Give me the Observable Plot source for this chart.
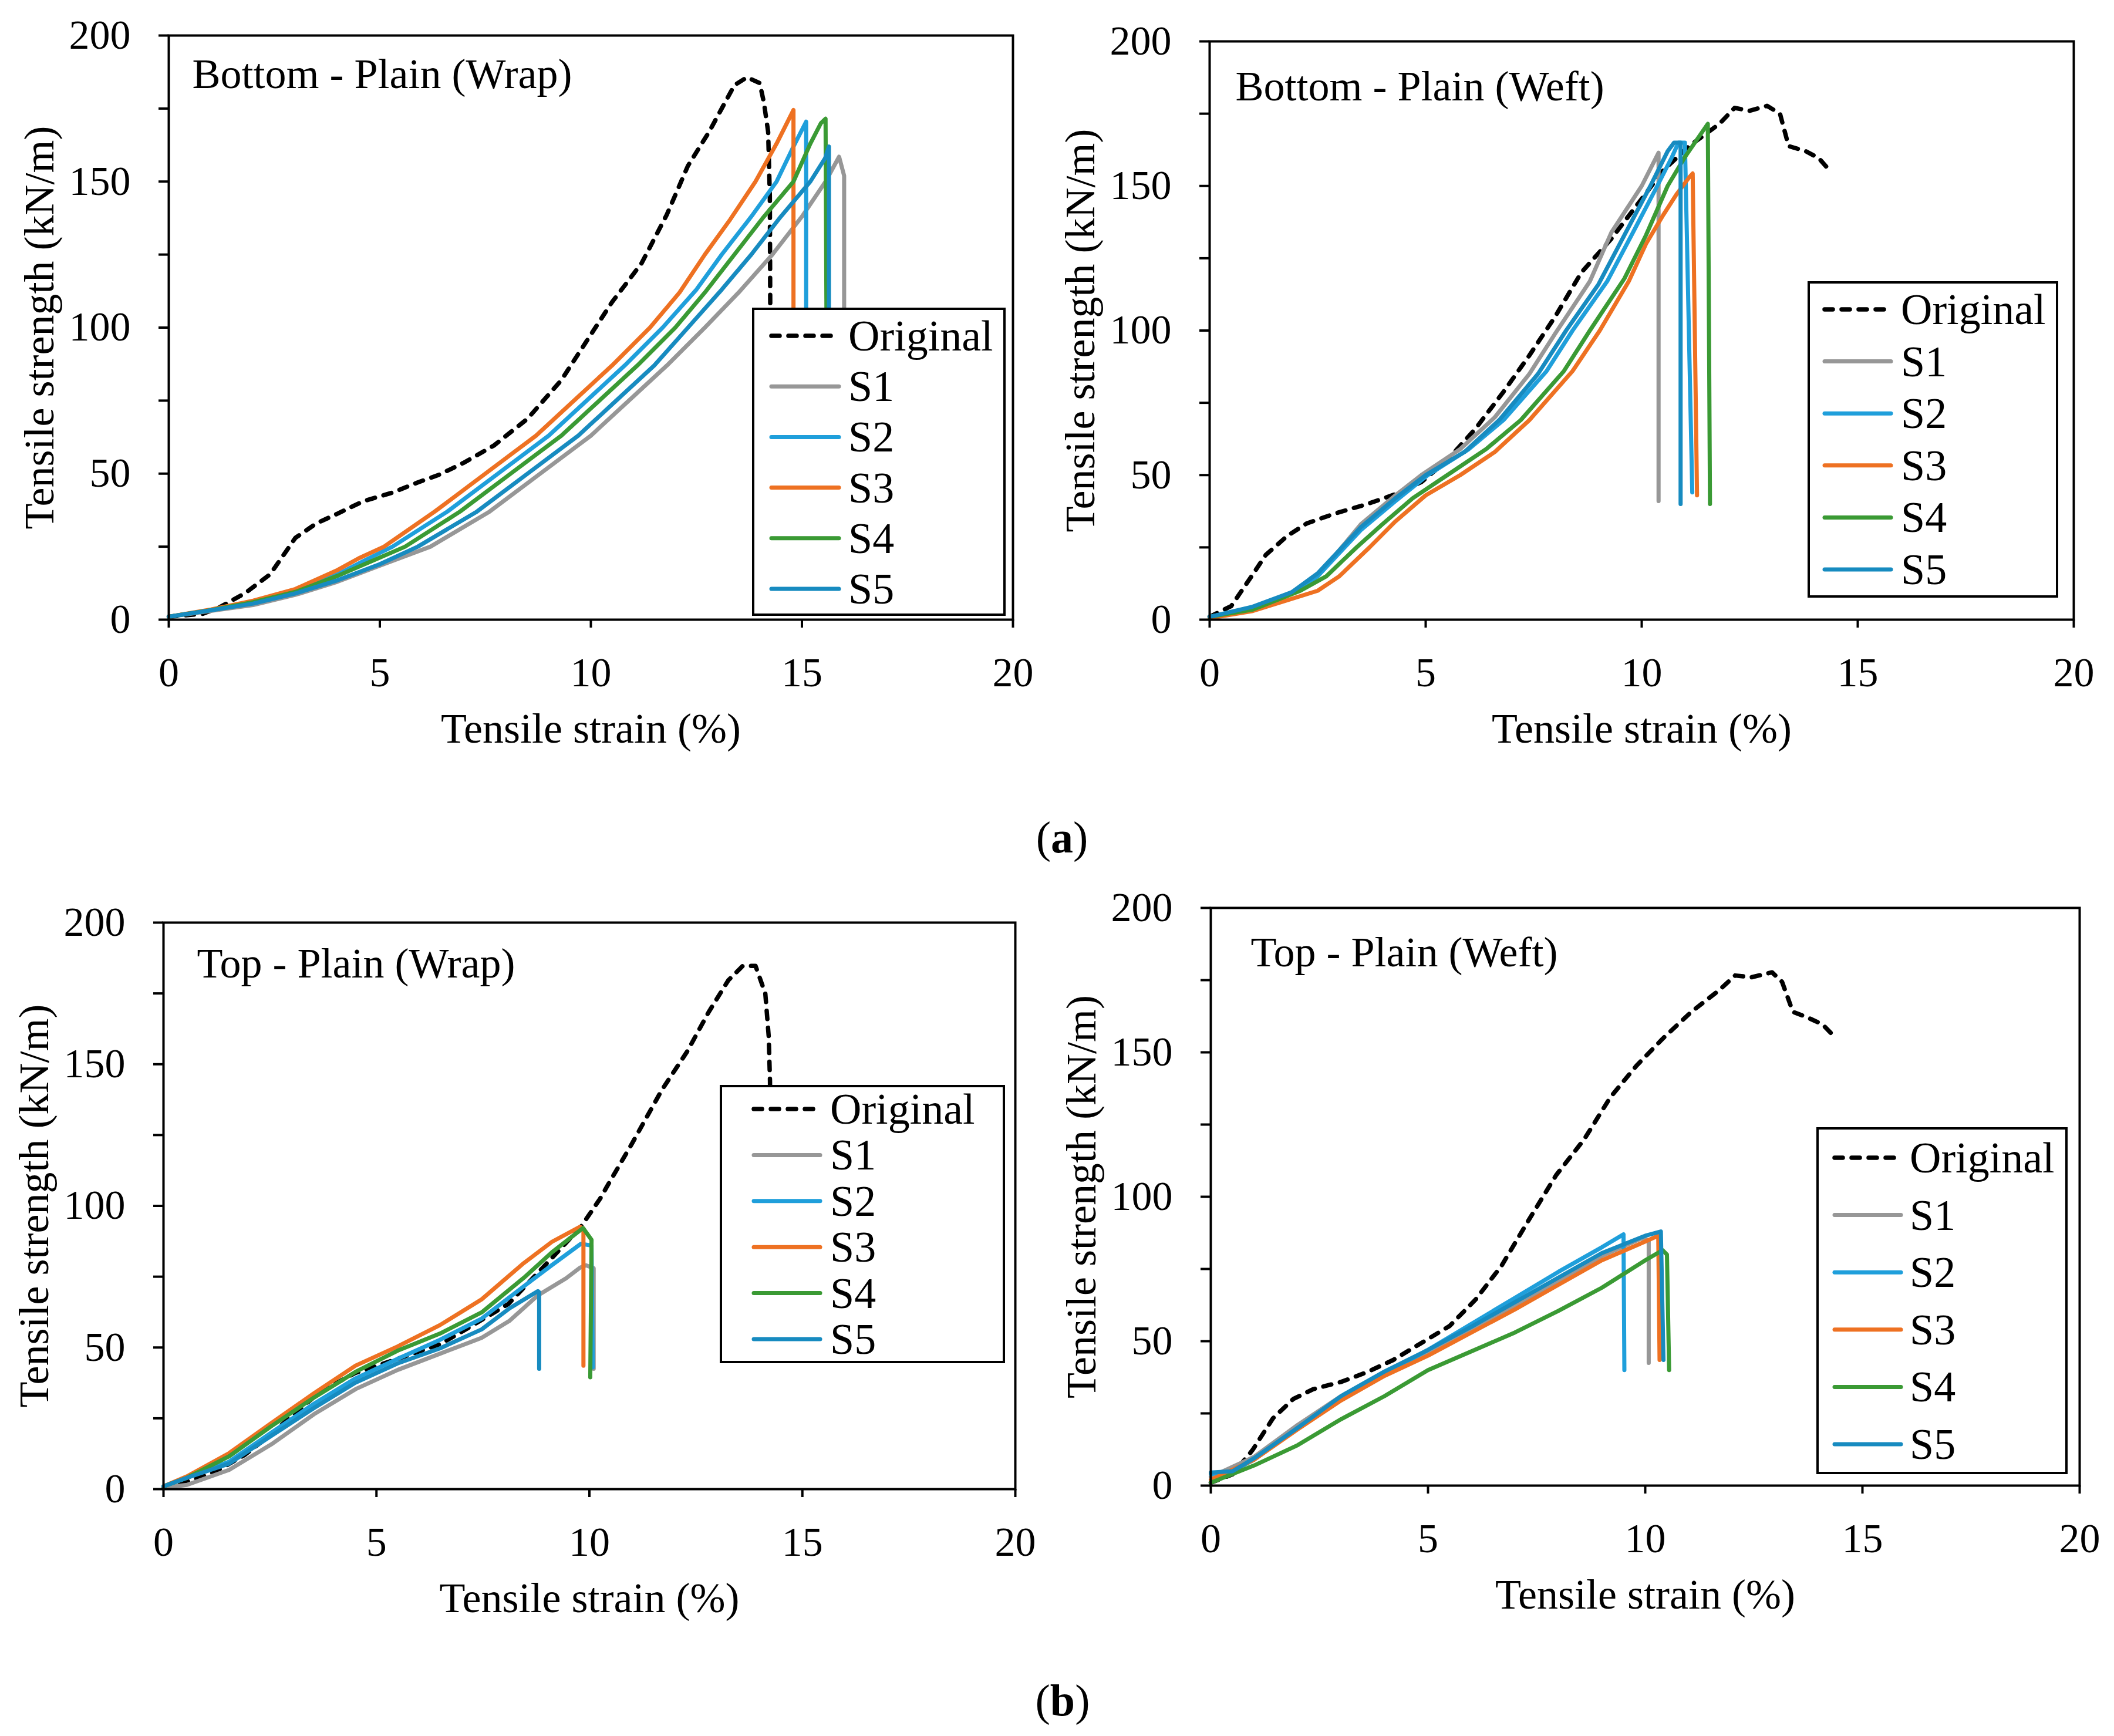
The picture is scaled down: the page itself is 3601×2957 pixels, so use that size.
<!DOCTYPE html>
<html>
<head>
<meta charset="utf-8">
<script src="https://cdn.jsdelivr.net/npm/d3@7"></script>
<script src="https://cdn.jsdelivr.net/npm/@observablehq/plot@0.6"></script>
<style>
  html, body { margin: 0; padding: 0; background: #fff; }
  #page { position: relative; width: 3601px; height: 2957px; background: #fff; overflow: hidden; }
  .panel { position: absolute; }
  #overlay { position: absolute; left: 0; top: 0; pointer-events: none; }
</style>
</head>
<body>
<div id="page"></div>
<script>
// ---------- DATA (strain %, tensile strength kN/m) ----------
const seriesNames = ["Original", "S1", "S2", "S3", "S4", "S5"];
const seriesColors = ["#000000", "#979797", "#1f9fdb", "#ee7122", "#3a9a34", "#178bc0"];
const xTicks = [0, 5, 10, 15, 20];
const yTicks = [0, 25, 50, 75, 100, 125, 150, 175, 200];
const panelTitles = ["Bottom - Plain (Wrap)", "Bottom - Plain (Weft)", "Top - Plain (Wrap)", "Top - Plain (Weft)"];
const xLabel = "Tensile strain (%)";
const yLabel = "Tensile strength (kN/m)";
const groupLabels = ["a", "b"];

// Panel (a) left: Bottom - Plain (Wrap)
const aOriginal = [[0,1],[0.8,2],[1.2,4.2],[1.8,9],[2.4,15.5],[3.0,28],[3.5,33],[4.0,36.3],[4.6,40.5],[5.3,43.5],[5.9,47],[6.4,49.6],[7.0,53.8],[7.7,59.6],[8.5,68.8],[9.3,82],[9.9,95.4],[10.5,108.7],[11.2,122],[11.8,138.7],[12.3,155.4],[12.8,167],[13.4,183],[13.7,185.7],[14.0,183.7],[14.1,177],[14.2,167],[14.24,145],[14.25,105]];
const aS1 = [[0,1],[1,3],[2,5],[3,8.5],[4,13],[5,18.5],[6.2,25],[7.6,37],[8.8,50],[10,63],[10.9,75],[11.8,87],[12.7,100],[13.5,112],[14.3,125],[15,138],[15.56,150],[15.88,158.5],[16.0,152],[16.0,45]];
const aS2 = [[0,1],[1,3.3],[2,6],[3,10],[4,15.5],[4.6,20],[5.3,25],[6.6,37],[7.8,50],[9,63],[9.9,75],[10.8,87],[11.7,100],[12.5,113],[13.1,125],[13.8,138],[14.4,150],[14.8,162],[15.1,170.5],[15.1,45]];
const aS3 = [[0,1],[1,3.5],[2,6.5],[3,10.5],[4,17],[4.5,21],[5.1,25],[6.3,37],[7.5,50],[8.7,63],[9.6,75],[10.5,87],[11.4,100],[12.1,112],[12.7,125],[13.3,137],[13.9,150],[14.4,163],[14.8,174.5],[14.8,45]];
const aS4 = [[0,1],[1,3.3],[2,6],[3,9.5],[4,15],[4.8,20],[5.6,25],[6.9,37],[8.1,50],[9.3,63],[10.2,75],[11.1,87],[12,100],[12.7,112],[13.4,125],[14.1,138],[14.8,150],[15.2,163],[15.45,170],[15.56,171.5],[15.6,45]];
const aS5 = [[0,1],[1,3.2],[2,5.5],[3,9],[4,13.5],[5,19],[5.9,25],[7.3,37],[8.5,50],[9.7,63],[10.6,75],[11.5,87],[12.3,100],[13.1,113],[13.8,125],[14.5,138],[15.2,150],[15.55,158],[15.64,162],[15.64,45]];

// Panel (a) right: Bottom - Plain (Weft)
const bOriginal = [[0,1],[0.5,4.7],[1.0,15.7],[1.3,22.4],[1.8,29],[2.25,33.3],[2.9,36.7],[3.65,40],[4.3,43.4],[4.9,47.6],[5.5,55.2],[6.15,66],[6.8,78.8],[7.4,91.4],[8.0,104.9],[8.6,120],[9.3,131.8],[9.9,143.6],[10.5,155.4],[11.1,163.8],[11.8,171.5],[12.15,177],[12.5,176],[12.9,177.7],[13.2,175],[13.4,163.8],[13.8,162],[14.1,159.6],[14.4,154.5]];
const bS1 = [[0,1],[1,4],[1.9,9.5],[2.5,15],[3,24],[3.5,33],[4.3,43],[4.9,50],[5.8,59],[6.6,70],[7.4,85],[8,99],[8.8,117],[9.3,134],[10,150],[10.39,161.5],[10.39,41]];
const bS2 = [[0,1],[1,4],[1.9,9],[2.5,15],[3,23],[3.5,31],[4.3,41],[5.05,50],[6,59],[6.8,69],[7.8,86],[8.4,100],[9.2,117],[9.8,134],[10.36,150],[10.7,160],[10.85,165],[11.0,165],[11.17,44]];
const bS3 = [[0,0.5],[1,3],[2.5,10],[3,15],[3.7,25],[4.3,34],[5,43],[5.8,50],[6.6,58],[7.4,69],[8.4,86],[9.03,100],[9.7,117],[10.1,130],[10.5,140],[10.8,147],[11.1,153],[11.18,154.3],[11.28,43]];
const bS4 = [[0,1],[1,3.5],[2.1,10],[2.7,15],[3.4,25],[4,33],[4.7,42],[5.5,50],[6.4,59],[7.2,69],[8.2,86],[8.8,100],[9.6,118],[10.1,133],[10.6,150],[11.0,160],[11.53,171.5],[11.58,40]];
const bS5 = [[0,1],[1,4.5],[1.9,9.5],[2.5,16],[3,24],[3.5,32],[4.3,42],[5,50],[5.9,58],[6.7,69],[7.6,85],[8.25,100],[9,116],[9.6,133],[10.2,150],[10.6,162],[10.75,165],[10.9,165],[10.9,40]];

// Panel (b) left: Top - Plain (Wrap)
const cOriginal = [[0,0.5],[0.55,2.6],[1.2,6],[1.9,12],[2.5,19],[3.1,27],[3.7,34.6],[4.5,41],[5.5,46],[6.5,51.2],[7.1,56.4],[8.1,65.4],[9.1,81.3],[9.8,92.6],[10.25,102.5],[10.4,106.5],[11.0,122],[11.7,140.9],[12.3,154.6],[12.8,168.4],[13.26,179.6],[13.6,184.7],[13.9,184.7],[14.13,175],[14.21,159.8],[14.24,144],[14.25,120]];
const cS1 = [[0,0.5],[0.55,1.5],[1.54,6.8],[2.53,15.8],[3.53,26.4],[4.51,35.3],[5.5,42.1],[6.49,47.8],[7.47,53.4],[8.13,59.5],[8.79,68.4],[9.45,74.4],[9.78,78.2],[9.92,79],[10.1,78],[10.1,42.5]];
const cS2 = [[0,1],[0.55,4],[1.54,9.7],[2.53,19.9],[3.53,30.1],[4.51,39.1],[5.5,46],[6.49,52.7],[7.47,60.2],[8.46,71.6],[9.12,79.1],[9.8,86.6],[10.05,86],[10.08,43]];
const cS3 = [[0,1],[0.55,4.5],[1.54,12.7],[2.53,23.3],[3.53,33.8],[4.51,43.6],[5.5,50.4],[6.49,57.9],[7.47,67],[8.46,79.8],[9.12,87.3],[9.78,92.6],[9.86,92],[9.86,43.6]];
const cS4 = [[0,1],[0.55,4],[1.54,11.6],[2.53,22.2],[3.53,32.3],[4.51,41.4],[5.5,48.9],[6.49,54.9],[7.47,62.4],[8.46,74.6],[9.12,83.6],[9.85,92.2],[10.05,88],[10.02,39.5]];
const cS5 = [[0,1],[0.55,4],[1.54,9],[2.53,18.8],[3.53,28.6],[4.51,37.6],[5.5,44.4],[6.49,49.7],[7.47,56.4],[8.13,63.9],[8.79,69.9],[8.82,69.5],[8.82,42.5]];

// Panel (b) right: Top - Plain (Weft)
const dOriginal = [[0,1],[0.5,3.9],[0.96,12.3],[1.43,23.3],[1.9,30],[2.36,33.4],[3.0,35.9],[3.6,39.3],[4.2,43.5],[4.85,49.4],[5.5,55.3],[6.1,64.5],[6.7,76.3],[7.3,91.5],[7.95,107.5],[8.6,120],[9.2,134.5],[9.8,145.4],[10.4,154.7],[11.06,164],[11.7,171.5],[12.07,176.6],[12.45,176],[12.92,177.7],[13.15,174.4],[13.4,164],[13.7,162.3],[14.08,159.7],[14.4,154.7]];
const dS1 = [[0,3],[1,10],[2,21],[3,31],[4,39],[5,46],[6,54],[7,62],[8,71],[9,79.5],[9.9,85.5],[10.08,85],[10.08,42.5]];
const dS2 = [[0,4],[0.5,5],[1,9],[2,20],[3,30],[4,38.5],[5,47],[6,56],[7,65],[8,74],[9,82.5],[9.5,87],[9.52,40]];
const dS3 = [[0,2],[1,9],[2,19.5],[3,29.5],[4,38],[5,45],[6,53],[7,61],[8,69.5],[9,78],[10,84.5],[10.3,86.5],[10.33,43.5]];
const dS4 = [[0,1],[0.5,4],[1,7],[2,14],[3,23],[4,31],[5,40],[6,46.5],[7,53],[8,60.5],[9,68.5],[10,78],[10.4,81.5],[10.5,80],[10.55,40]];
const dS5 = [[0,4.5],[0.5,5],[1,9.5],[2,20],[3,31],[4,39.5],[5,47],[6,55],[7,63.5],[8,72],[9,80.5],[10,86.5],[10.36,88],[10.42,43.5]];

// ---------- LAYOUT ----------
const FONT = "'Liberation Serif', 'Times New Roman', Times, serif";
const panels = [
  {title: panelTitles[0], series: [aOriginal, aS1, aS2, aS3, aS4, aS5], left: 0, top: 0, w: 1800, h: 1420,
   frame: {l: 287, r: 1725, t: 60, b: 1055}, tdx: 40, tdy: 89,
   legend: {x: 1283, y: 526, w: 428, h: 521, row0: 46, step: 86.2, lx0: 27, lx1: 150, tx: 162}},
  {title: panelTitles[1], series: [bOriginal, bS1, bS2, bS3, bS4, bS5], left: 1800, top: 0, w: 1801, h: 1420,
   frame: {l: 2060, r: 3532, t: 70, b: 1055}, tdx: 44, tdy: 100,
   legend: {x: 3081, y: 481, w: 423, h: 535, row0: 46, step: 88.6, lx0: 23, lx1: 144, tx: 157}},
  {title: panelTitles[2], series: [cOriginal, cS1, cS2, cS3, cS4, cS5], left: 0, top: 1440, w: 1800, h: 1400,
   frame: {l: 278, r: 1729, t: 1571, b: 2536}, tdx: 57, tdy: 93,
   legend: {x: 1228, y: 1850, w: 482, h: 470, row0: 39, step: 78.4, lx0: 52, lx1: 173, tx: 186}},
  {title: panelTitles[3], series: [dOriginal, dS1, dS2, dS3, dS4, dS5], left: 1800, top: 1440, w: 1801, h: 1400,
   frame: {l: 2062, r: 3542, t: 1546, b: 2530}, tdx: 68, tdy: 99,
   legend: {x: 3096, y: 1922, w: 424, h: 587, row0: 50, step: 97.6, lx0: 25, lx1: 146, tx: 157}}
];

const page = document.getElementById("page");

function lineStyle(i) {
  return i === 0
    ? {stroke: seriesColors[0], strokeWidth: 7.5, strokeDasharray: "14,15", strokeLinecap: "round", strokeLinejoin: "round"}
    : {stroke: seriesColors[i], strokeWidth: 7, strokeLinecap: "round", strokeLinejoin: "round"};
}

for (const p of panels) {
  const mL = p.frame.l - p.left, mR = p.left + p.w - p.frame.r;
  const mT = p.frame.t - p.top, mB = p.top + p.h - p.frame.b;
  const marks = [];
  p.series.forEach((s, i) => {
    marks.push(Plot.line(s, {x: d => d[0], y: d => d[1], ...lineStyle(i)}));
  });
  marks.push(
    Plot.axisX({ticks: xTicks, tickSize: 14, tickPadding: 50, strokeWidth: 4, label: null, fontSize: 70}),
    Plot.axisY({ticks: yTicks, tickSize: 17, tickPadding: 48, strokeWidth: 4, label: null, fontSize: 70,
                tickFormat: d => (d % 50 === 0 ? String(d) : "")}),
    Plot.frame({stroke: "black", strokeWidth: 4}),
    Plot.text([p.title], {frameAnchor: "top-left", textAnchor: "start", lineAnchor: "bottom", dx: p.tdx, dy: p.tdy, fontSize: 72, fill: "black"}),
    Plot.text([xLabel], {frameAnchor: "bottom", textAnchor: "middle", lineAnchor: "bottom", dy: 209, fontSize: 72, fill: "black"}),
    Plot.text([yLabel], {frameAnchor: "left", textAnchor: "middle", lineAnchor: "bottom", rotate: -90, dx: -197, fontSize: 72, fill: "black"})
  );
  const chart = Plot.plot({
    width: p.w, height: p.h,
    marginLeft: mL, marginRight: mR, marginTop: mT, marginBottom: mB,
    x: {domain: [0, 20]},
    y: {domain: [0, 200]},
    style: {fontFamily: FONT, fontSize: "70px", color: "black", background: "transparent", overflow: "visible"},
    marks
  });
  const div = document.createElement("div");
  div.className = "panel";
  div.style.left = p.left + "px";
  div.style.top = p.top + "px";
  div.appendChild(chart);
  page.appendChild(div);
}

// ---------- OVERLAY: legends and group labels ----------
const svg = d3.select(page).append("svg")
  .attr("id", "overlay").attr("width", 3601).attr("height", 2957)
  .style("font-family", FONT);

for (const p of panels) {
  const L = p.legend;
  const g = svg.append("g").attr("transform", `translate(${L.x},${L.y})`);
  g.append("rect").attr("x", 0).attr("y", 0).attr("width", L.w).attr("height", L.h)
    .attr("fill", "white").attr("stroke", "black").attr("stroke-width", 4);
  seriesNames.forEach((name, i) => {
    const cy = L.row0 + i * L.step;
    const st = lineStyle(i);
    const ln = g.append("line").attr("x1", L.lx0 + 4).attr("x2", L.lx1 - 4).attr("y1", cy).attr("y2", cy)
      .attr("stroke", st.stroke).attr("stroke-width", st.strokeWidth).attr("stroke-linecap", "round");
    if (st.strokeDasharray) ln.attr("stroke-dasharray", st.strokeDasharray);
    g.append("text").attr("x", L.tx).attr("y", cy + 25).attr("font-size", 74).attr("fill", "black").text(name);
  });
}

const groupPos = [{x: 1809, y: 1452}, {x: 1810, y: 2922}];
groupLabels.forEach((lab, i) => {
  const t = svg.append("text").attr("x", groupPos[i].x).attr("y", groupPos[i].y)
    .attr("text-anchor", "middle").attr("font-size", 76).attr("fill", "black");
  t.append("tspan").text("(");
  t.append("tspan").attr("font-weight", "bold").text(lab);
  t.append("tspan").text(")");
});
</script>
</body>
</html>
